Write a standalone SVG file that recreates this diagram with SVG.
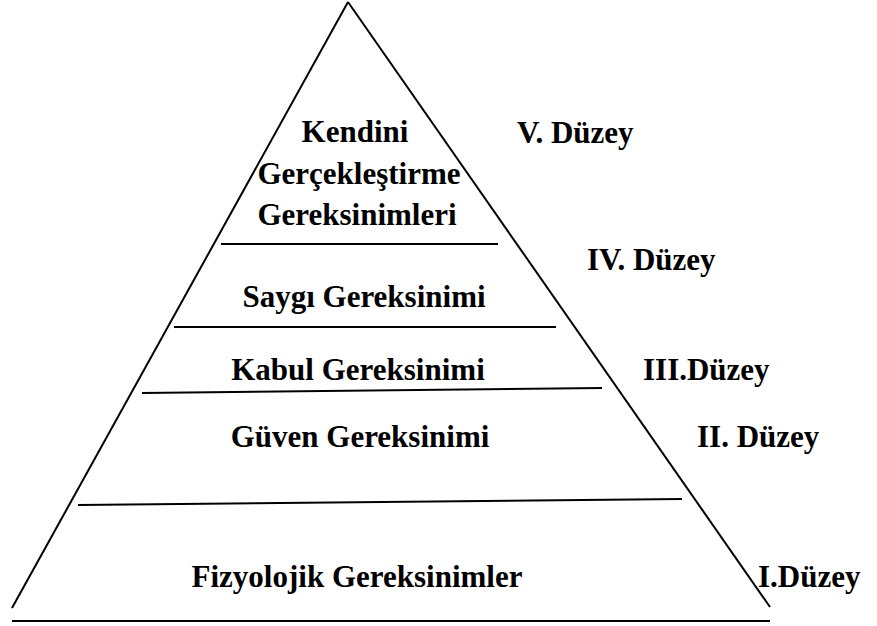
<svg xmlns="http://www.w3.org/2000/svg" width="877" height="626" viewBox="0 0 877 626">
  <style>
    .edge { stroke: #000; stroke-width: 2; fill: none; }
    .lbl { font-family: "Liberation Serif", "Times New Roman", serif; font-weight: bold; font-size: 31px; fill: #000; }
    .mid { text-anchor: middle; }
  </style>
  <rect width="877" height="626" fill="#fff"/>
  <g id="connectors">
    <!-- pyramid outline -->
    <line class="edge" x1="348" y1="2" x2="12" y2="608"/>
    <line class="edge" x1="348" y1="2" x2="770" y2="607"/>
    <line class="edge" x1="12" y1="621" x2="770" y2="621"/>
    <!-- level dividers -->
    <line class="edge" x1="221" y1="244" x2="498" y2="244"/>
    <line class="edge" x1="174" y1="327" x2="556" y2="327"/>
    <line class="edge" x1="142" y1="393" x2="602" y2="388"/>
    <line class="edge" x1="78" y1="505" x2="682" y2="499"/>
  </g>
  <g id="level5">
    <text class="lbl mid" x="355" y="142">Kendini</text>
    <text class="lbl mid" x="359" y="184">Gerçekleştirme</text>
    <text class="lbl mid" x="357" y="225">Gereksinimleri</text>
    <text class="lbl" x="517" y="143">V. Düzey</text>
  </g>
  <g id="level4">
    <text class="lbl mid" x="364" y="307">Saygı Gereksinimi</text>
    <text class="lbl" x="587" y="270">IV. Düzey</text>
  </g>
  <g id="level3">
    <text class="lbl mid" x="358" y="380">Kabul Gereksinimi</text>
    <text class="lbl" x="643" y="380">III.Düzey</text>
  </g>
  <g id="level2">
    <text class="lbl mid" x="360" y="447">Güven Gereksinimi</text>
    <text class="lbl" x="697" y="447">II. Düzey</text>
  </g>
  <g id="level1">
    <text class="lbl mid" x="357" y="587">Fizyolojik Gereksinimler</text>
    <text class="lbl" x="758" y="587">I.Düzey</text>
  </g>
</svg>
